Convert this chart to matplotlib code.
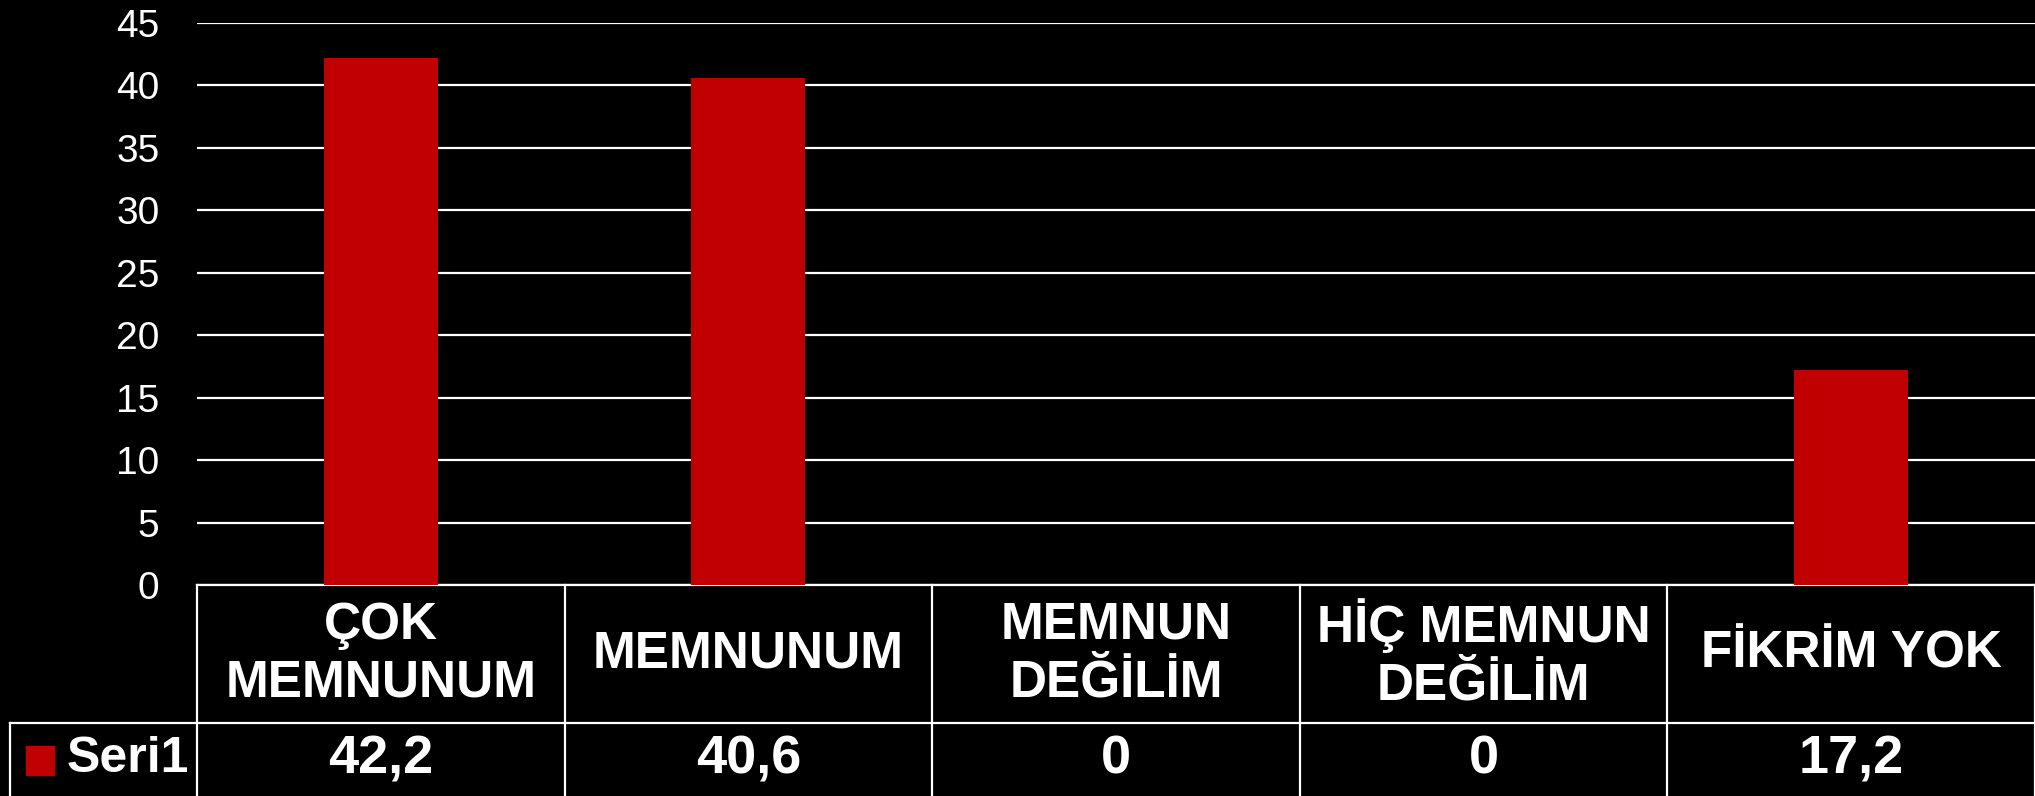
import matplotlib
matplotlib.use('Agg')
import matplotlib.pyplot as plt
import matplotlib.transforms as mtransforms

# Data
categories = ['ÇOK\nMEMNUNUM', 'MEMNUNUM', 'MEMNUN\nDEĞİLİM', 'HİÇ MEMNUN\nDEĞİLİM', 'FİKRİM YOK']
values = [42.2, 40.6, 0, 0, 17.2]
value_labels = ['42,2', '40,6', '0', '0', '17,2']
series_name = 'Seri1'
yticks = [0, 5, 10, 15, 20, 25, 30, 35, 40, 45]

BAR_RED = '#C00000'
W, H = 2035, 796

plt.rcParams['font.family'] = ['Liberation Sans', 'DejaVu Sans']

fig = plt.figure(figsize=(W / 100, H / 100), dpi=100, facecolor='black')
# plot area in pixels: left 197, right 2035, top 23 (45), bottom 585 (0)
ax = fig.add_axes([197 / W, (H - 585) / H, (W - 197) / W, (585 - 23) / H])
ax.set_facecolor('black')

x = list(range(len(categories)))
ax.bar(x, values, width=0.31, color=BAR_RED, zorder=3)

ax.set_xlim(-0.5, len(categories) - 0.5)
ax.set_ylim(0, 45)
ax.set_yticks(yticks)
ax.set_yticklabels([str(t) for t in yticks], color='white', fontsize=28)
ax.tick_params(axis='y', length=0, pad=27)
ax.set_xticks([])
for s in ax.spines.values():
    s.set_visible(False)
ax.grid(axis='y', color='white', linewidth=1.6, zorder=1)

# data table below the axes
trans = mtransforms.blended_transform_factory(ax.transData, ax.transAxes)
ax_h = 585 - 23
hdr_bot = -(723 - 585) / ax_h
tbl_bot = -(797 - 585) / ax_h
left_x = -0.5 - (197 - 10) / ((W - 197) / len(categories))
lw = 1.6

# horizontal lines
ax.plot([-0.5, 4.5], [0, 0], color='white', lw=lw, transform=trans, clip_on=False)
ax.plot([left_x, 4.5], [hdr_bot, hdr_bot], color='white', lw=lw, transform=trans, clip_on=False)
# vertical lines
for i in range(len(categories) + 1):
    xv = i - 0.5
    ax.plot([xv, xv], [0, tbl_bot], color='white', lw=lw, transform=trans, clip_on=False)
ax.plot([left_x, left_x], [hdr_bot, tbl_bot], color='white', lw=lw, transform=trans, clip_on=False)

hdr_mid = hdr_bot / 2
val_mid = (hdr_bot + tbl_bot) / 2
for i, (cat, lab) in enumerate(zip(categories, value_labels)):
    ax.text(i, hdr_mid, cat, transform=trans, ha='center', va='center', color='white',
            fontsize=37, fontweight='bold', linespacing=1.22, clip_on=False)
    ax.text(i, val_mid, lab, transform=trans, ha='center', va='center', color='white',
            fontsize=39, fontweight='bold', clip_on=False)

# legend key + series name
fig.patches.append(plt.Rectangle((26 / W, (H - 775) / H), 28 / W, 29 / H,
                                 transform=fig.transFigure, color=BAR_RED))
fig.text(67 / W, (H - 759) / H, series_name, ha='left', va='center', color='white',
         fontsize=36, fontweight='bold')

fig.savefig('out.png', dpi=100, facecolor='black')
